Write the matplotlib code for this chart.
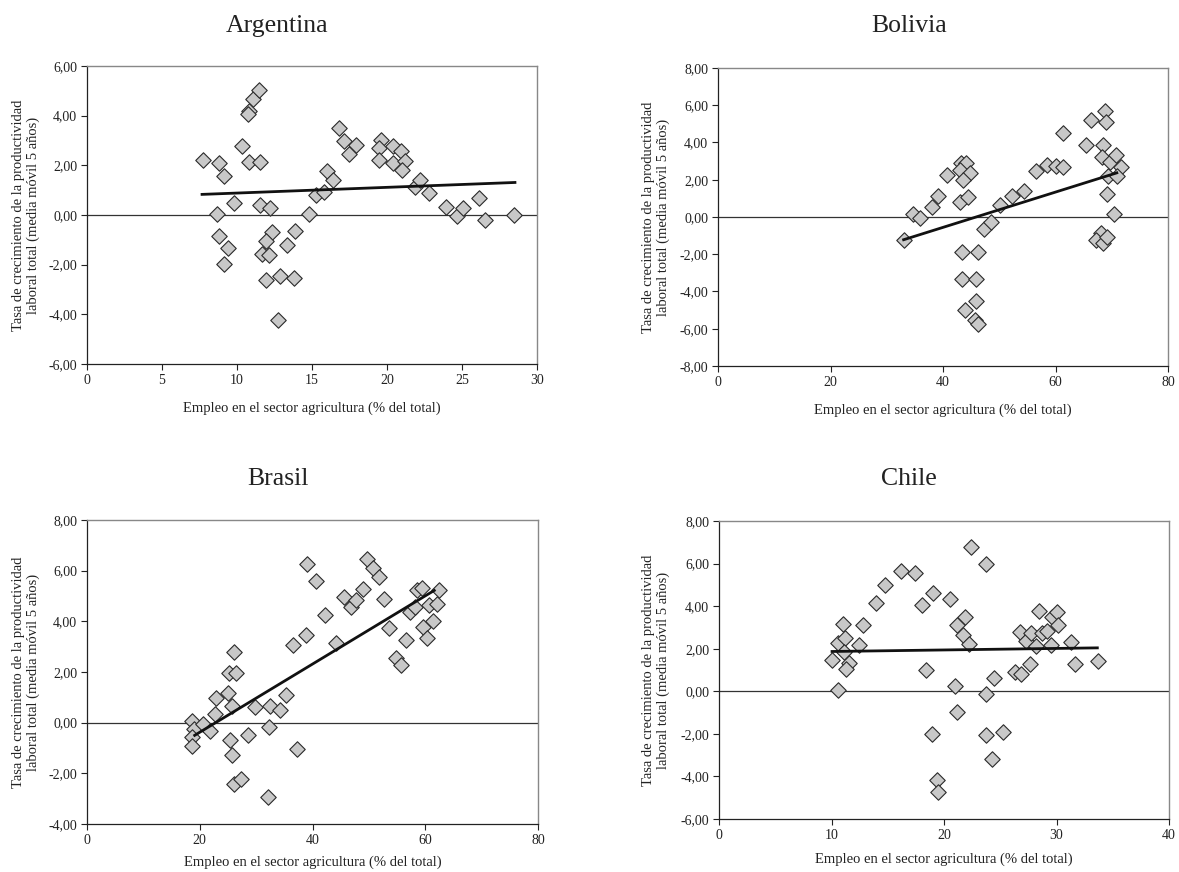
import numpy as np
import matplotlib.pyplot as plt
from matplotlib.ticker import FuncFormatter

plt.rcParams['font.family'] = ['Liberation Serif', 'DejaVu Serif']

# Employment in agriculture (% of total) vs labour productivity growth (5y moving avg)
arg_x = [7.71, 8.78, 9.13, 8.64, 9.82, 8.82, 9.40, 9.16, 10.33, 10.80, 10.76, 11.09, 11.44,
         10.80, 11.56, 11.53, 12.22, 12.33, 11.91, 11.67, 12.16, 11.96, 12.89, 12.73, 13.31,
         13.89, 13.78, 14.78, 15.27, 15.78, 16.00, 16.42, 16.78, 17.13, 17.49, 17.93, 19.62,
         19.47, 19.49, 20.42, 20.38, 20.91, 21.18, 21.00, 21.84, 22.20, 22.78, 23.96, 24.64,
         25.09, 26.11, 26.56, 28.47]
arg_y = [2.21, 2.09, 1.59, 0.05, 0.49, -0.84, -1.33, -1.99, 2.79, 4.20, 4.07, 4.67, 5.05,
         2.13, 2.13, 0.41, 0.27, -0.69, -1.03, -1.59, -1.61, -2.61, -2.45, -4.21, -1.20,
         -0.63, -2.53, 0.03, 0.80, 0.93, 1.77, 1.39, 3.52, 2.99, 2.44, 2.83, 3.01,
         2.68, 2.23, 2.77, 2.09, 2.59, 2.16, 1.83, 1.11, 1.40, 0.89, 0.33, -0.03,
         0.27, 0.68, -0.20, -0.01]
arg_trend = [(7.67, 0.83), (28.53, 1.31)]

bol_x = [33.0, 34.67, 35.85, 38.04, 39.17, 40.77, 43.14, 44.15, 43.02, 44.74, 43.56, 43.08,
         44.50, 43.38, 46.28, 43.44, 45.81, 43.91, 45.81, 45.75, 46.28, 47.23, 48.53, 50.19,
         52.27, 54.46, 56.59, 58.55, 60.03, 61.33, 61.33, 65.36, 66.31, 68.80, 68.92, 68.44,
         68.21, 69.75, 70.70, 71.70, 69.39, 70.93, 69.10, 70.46, 68.15, 67.20, 68.50, 69.20]
bol_y = [-1.24, 0.14, -0.04, 0.52, 1.11, 2.28, 2.90, 2.89, 2.54, 2.35, 2.01, 0.81,
         1.06, -1.86, -1.86, -3.33, -3.33, -4.98, -4.50, -5.52, -5.75, -0.65, -0.27, 0.66,
         1.15, 1.42, 2.46, 2.80, 2.76, 2.69, 4.50, 3.87, 5.20, 5.68, 5.11, 3.84,
         3.23, 2.97, 3.35, 2.67, 2.19, 2.22, 1.25, 0.14, -0.88, -1.24, -1.38, -1.06]
bol_trend = [(33.0, -1.22), (70.9, 2.37)]

bra_x = [18.59, 19.06, 18.59, 18.59, 20.60, 21.79, 22.62, 22.97, 24.93, 25.10, 26.35, 25.99,
         25.75, 25.40, 25.64, 26.11, 27.29, 28.60, 29.72, 32.45, 34.16, 35.35, 32.27, 32.03,
         37.24, 36.47, 38.78, 39.08, 40.62, 42.21, 44.11, 45.65, 46.77, 47.78, 48.90, 49.73,
         50.80, 51.86, 52.63, 53.64, 54.77, 55.71, 56.60, 57.31, 58.26, 58.61, 59.50, 59.68,
         60.33, 60.75, 61.40, 62.17, 62.52]
bra_y = [0.05, -0.24, -0.55, -0.94, -0.04, -0.34, 0.34, 0.96, 1.16, 1.95, 1.95, 2.78,
         0.66, -0.67, -1.27, -2.43, -2.24, -0.50, 0.61, 0.65, 0.49, 1.08, -0.18, -2.93,
         -1.03, 3.05, 3.47, 6.25, 5.59, 4.25, 3.15, 4.96, 4.56, 4.85, 5.29, 6.48,
         6.09, 5.75, 4.88, 3.73, 2.55, 2.27, 3.25, 4.35, 4.56, 5.22, 5.30, 3.76,
         3.36, 4.63, 4.02, 4.68, 5.24]
bra_trend = [(19.1, -0.50), (61.6, 5.22)]

chi_x = [10.02, 10.62, 10.62, 11.00, 11.21, 11.09, 11.57, 11.27, 12.46, 12.81, 13.94, 14.77,
         16.16, 17.44, 18.06, 18.98, 18.42, 18.92, 19.42, 19.45, 20.52, 21.00, 21.12, 21.83,
         21.14, 21.71, 22.24, 22.36, 23.70, 23.75, 23.70, 24.23, 24.44, 25.21, 26.30, 26.81,
         26.75, 27.28, 27.64, 27.76, 28.17, 28.44, 28.74, 29.15, 29.51, 29.63, 30.04, 30.16,
         31.32, 31.61, 33.72]
chi_y = [1.46, 0.08, 2.27, 3.17, 2.49, 1.85, 1.32, 1.05, 2.18, 3.12, 4.17, 4.97,
         5.64, 5.56, 4.06, 4.64, 0.99, -1.99, -4.17, -4.75, 4.34, 0.27, -0.96, 3.50,
         3.13, 2.65, 2.24, 6.77, 5.96, -0.14, -2.05, -3.18, 0.61, -1.93, 0.92, 0.82,
         2.77, 2.38, 1.29, 2.76, 2.13, 3.78, 2.74, 2.82, 2.18, 3.50, 3.71, 3.12,
         2.30, 1.30, 1.43]
chi_trend = [(10.05, 1.87), (33.63, 2.04)]

X_LABEL = "Empleo en el sector agricultura (% del total)"
Y_LABEL = "Tasa de crecimiento de la productividad\nlaboral total (media móvil 5 años)"

W, H = 1179, 872

# name, x, y, trend, plot box in px (left, top, right, bottom), xlim, xstep, ylim,
# title centre x, title baseline y, xlabel y, ylabel x
panels = [
    ("Argentina", arg_x, arg_y, arg_trend, (87, 66, 537, 364), (0, 30), 5, (-6, 6), 277, 32, 408, 26),
    ("Bolivia", bol_x, bol_y, bol_trend, (718, 68, 1168, 366), (0, 80), 20, (-8, 8), 909, 32, 410, 656),
    ("Brasil", bra_x, bra_y, bra_trend, (87, 520, 538, 824), (0, 80), 20, (-4, 8), 278, 485, 862, 26),
    ("Chile", chi_x, chi_y, chi_trend, (719, 521, 1169, 819), (0, 40), 10, (-6, 8), 909, 485, 859, 656),
]

fmt = FuncFormatter(lambda v, p: f"{v:.2f}".replace(".", ","))

fig = plt.figure(figsize=(W / 100, H / 100), dpi=100)

for name, xs, ys, trend, box, xlim, xstep, ylim, tx, ty, xly, ylx in panels:
    l, t, r, b = box
    ax = fig.add_axes([l / W, 1 - b / H, (r - l) / W, (b - t) / H])

    ax.axhline(0, color="#333333", lw=0.9, zorder=1)
    ax.scatter(xs, ys, marker="D", s=62, facecolor="#c8c8c8", edgecolor="#2a2a2a",
               linewidths=0.8, zorder=3)

    # excel linear trendline, endpoints
    (x0, y0), (x1, y1) = trend
    ax.plot([x0, x1], [y0, y1], color="#111111", lw=2.0, zorder=4)

    ax.set_xlim(*xlim)
    ax.set_ylim(*ylim)
    ax.set_xticks(np.arange(xlim[0], xlim[1] + 0.1, xstep))
    ax.set_yticks(np.arange(ylim[0], ylim[1] + 0.1, 2))
    ax.yaxis.set_major_formatter(fmt)
    ax.tick_params(direction="out", length=4, width=0.8, labelsize=10, pad=3,
                   colors="#222222")
    for side in ("left", "bottom"):
        ax.spines[side].set_color("#222222")
        ax.spines[side].set_linewidth(0.9)
    for side in ("top", "right"):
        ax.spines[side].set_color("#888888")
        ax.spines[side].set_linewidth(1.0)

    fig.text(tx / W, 1 - ty / H, name, ha="center", va="baseline", fontsize=18.5,
             color="#222222")
    fig.text((l + r) / 2 / W, 1 - xly / H, X_LABEL, ha="center", va="center",
             fontsize=10.5, color="#222222")
    fig.text(ylx / W, 1 - (t + b) / 2 / H, Y_LABEL, ha="center", va="center",
             rotation=90, fontsize=10.5, linespacing=1.1, multialignment="center",
             color="#222222")

fig.savefig("out.png", dpi=100)
